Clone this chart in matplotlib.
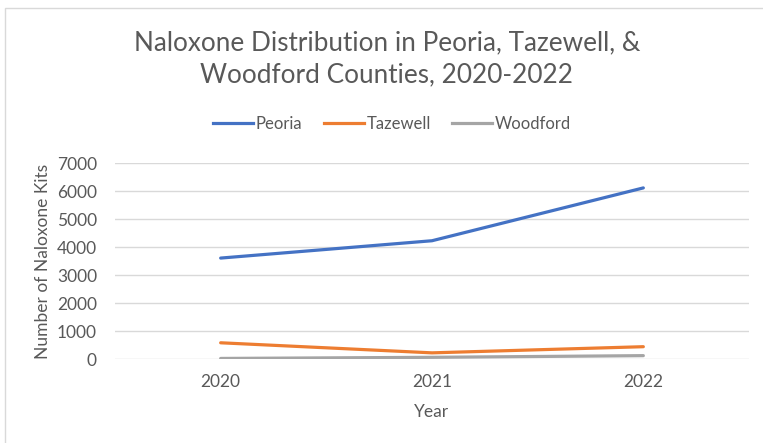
import matplotlib
matplotlib.use("Agg")
import matplotlib.pyplot as plt
from matplotlib.lines import Line2D
from matplotlib.patches import Rectangle

years = ["2020", "2021", "2022"]
peoria = [3610, 4230, 6120]
tazewell = [580, 220, 440]
woodford = [20, 60, 120]
series_names = ["Peoria", "Tazewell", "Woodford"]
colors = ["#4472C4", "#ED7D31", "#A5A5A5"]
yticks = [0, 1000, 2000, 3000, 4000, 5000, 6000, 7000]

plt.rcParams['font.family'] = ['Lato', 'DejaVu Sans']
txt = "#595959"

fig = plt.figure(figsize=(7.63, 4.43), dpi=100)
fig.patches.append(Rectangle((5/763, -0.1), 1.2, 1 - 8/443 + 0.1, transform=fig.transFigure,
                             fill=False, edgecolor="#D9D9D9", linewidth=1.0))
ax = fig.add_axes([115/763, 1 - 359/443, (749 - 115)/763, (359 - 163.3)/443])

x = list(range(len(years)))
for vals, name, c in zip([peoria, tazewell, woodford], series_names, colors):
    ax.plot(x, vals, color=c, linewidth=2.3, label=name, solid_capstyle="round")

ax.set_xlim(-0.5, len(years) - 0.5)
ax.set_ylim(0, 7000)
ax.set_yticks(yticks)
ax.set_yticklabels([str(v) for v in yticks])
ax.set_xticks(x)
ax.set_xticklabels(years)
ax.grid(axis="y", color="#D9D9D9", linewidth=1.0)
ax.set_axisbelow(True)
for s in ax.spines.values():
    s.set_visible(False)
ax.tick_params(axis="both", length=0, colors=txt, labelsize=12.5)
ax.tick_params(axis="y", pad=13)
ax.tick_params(axis="x", pad=11)
ax.set_ylabel("Number of Naloxone Kits", color=txt, fontsize=12.5, labelpad=4)
ax.set_xlabel("Year", color=txt, fontsize=12.5, labelpad=10)

fig.text(387/763, 1 - 43/443, "Naloxone Distribution in Peoria, Tazewell, &", ha="center", va="center",
         fontsize=18.8, color=txt)
fig.text(387/763, 1 - 75/443, "Woodford Counties, 2020-2022", ha="center", va="center",
         fontsize=18.8, color=txt)

handles = [Line2D([0], [0], color=c, linewidth=2.3) for c in colors]
fig.legend(handles, series_names, loc="center", bbox_to_anchor=(392/763, 1 - 124/443), ncol=3,
           frameon=False, fontsize=12, labelcolor=txt, handlelength=2.4, handletextpad=0.15,
           columnspacing=1.3)

fig.savefig("out.png", dpi=100)
